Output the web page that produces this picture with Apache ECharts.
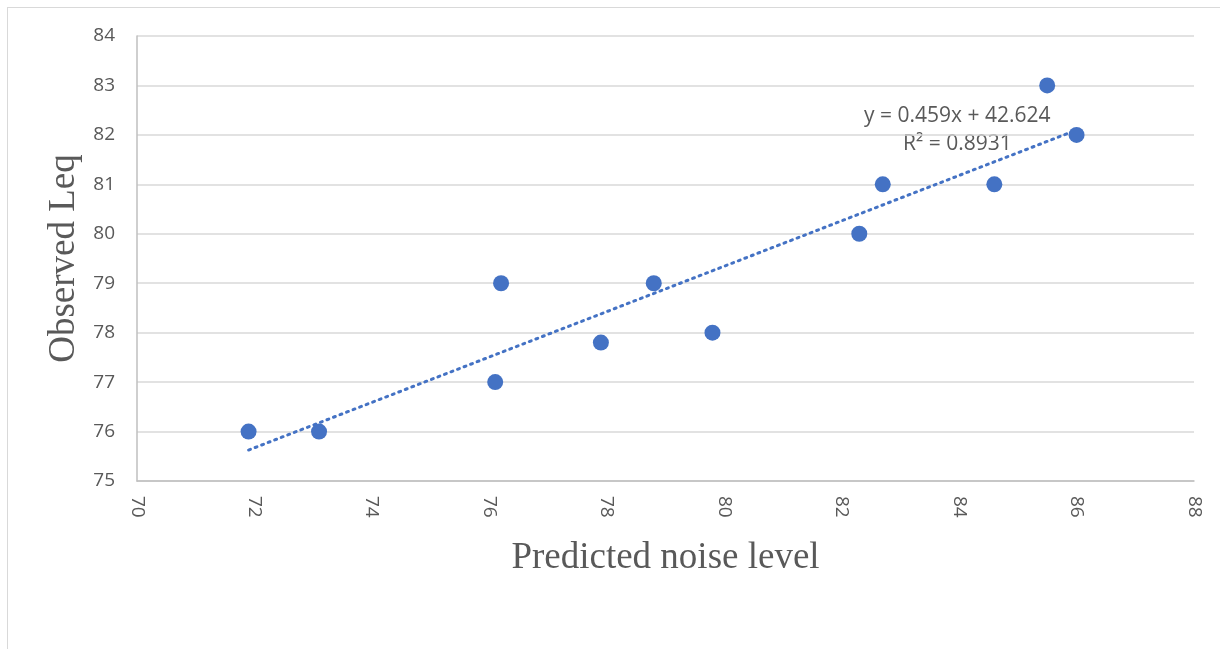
<!DOCTYPE html>
<html>
<head>
<meta charset="utf-8">
<script src="https://cdn.jsdelivr.net/npm/echarts@6/dist/echarts.min.js"></script>
<style>
  html, body { margin: 0; padding: 0; background: #fff; }
  #frame { position: absolute; left: 7px; top: 7px; width: 1230px; height: 660px; border: 1px solid #d9d9d9; box-sizing: border-box; }
  #chart { position: absolute; left: 0; top: 0; width: 1220px; height: 649px; }
</style>
</head>
<body>
<div id="frame"></div>
<div id="chart"></div>
<script>
// predicted vs observed noise levels
var predicted = [71.9, 73.1, 76.1, 76.2, 77.9, 78.8, 79.8, 82.3, 82.7, 84.6, 85.5, 86.0];
var observed  = [76,   76,   77,   79,   77.8, 79,   78,   80,   81,   81,   83,   82];

// linear trendline (from the chart's equation)
var slope = 0.459;
var intercept = 42.624;
var eqText = 'y = 0.459x + 42.624';
var r2Text = 'R² = 0.8931';

var points = predicted.map(function (x, i) { return [x, observed[i]]; });
var xLo = Math.min.apply(null, predicted);
var xHi = Math.max.apply(null, predicted);
var trend = [[xLo, slope * xLo + intercept], [xHi, slope * xHi + intercept]];

var chart = echarts.init(document.getElementById('chart'));
var tickFont = { color: '#595959', fontSize: 19, fontFamily: 'Open Sans' };
var titleFont = { color: '#595959', fontSize: 37, fontFamily: 'Liberation Serif' };

chart.setOption({
  animation: false,
  grid: { left: 137, right: 26, top: 36, bottom: 168 },
  xAxis: {
    type: 'value', min: 70, max: 88, interval: 2,
    name: 'Predicted noise level', nameLocation: 'middle', nameGap: 59,
    nameTextStyle: titleFont,
    axisLine: { show: true, lineStyle: { color: '#bfbfbf', width: 1.5 } },
    axisTick: { show: false },
    splitLine: { show: false },
    axisLabel: Object.assign({ rotate: -90, margin: 15 }, tickFont)
  },
  yAxis: {
    type: 'value', min: 75, max: 84, interval: 1,
    name: 'Observed Leq', nameLocation: 'middle', nameGap: 53,
    nameTextStyle: titleFont,
    axisLine: { show: true, lineStyle: { color: '#bfbfbf', width: 1.5 } },
    axisTick: { show: false },
    splitLine: { show: true, lineStyle: { color: '#d9d9d9', width: 1.5 } },
    axisLabel: Object.assign({ margin: 22 }, tickFont)
  },
  series: [
    {
      type: 'line',
      data: trend,
      symbol: 'none',
      lineStyle: { color: '#4472C4', width: 3, type: [2, 5], cap: 'round' },
      z: 2
    },
    {
      type: 'scatter',
      data: points,
      symbolSize: 16,
      itemStyle: { color: '#4472C4', opacity: 1 },
      z: 3
    }
  ],
  graphic: [
    { type: 'text', left: 864, top: 106,
      style: { text: eqText, fill: '#595959', fontSize: 21, fontFamily: 'Open Sans' } },
    { type: 'text', left: 903, top: 134,
      style: { text: r2Text, fill: '#595959', fontSize: 21, fontFamily: 'Open Sans' } }
  ]
});
</script>
</body>
</html>
